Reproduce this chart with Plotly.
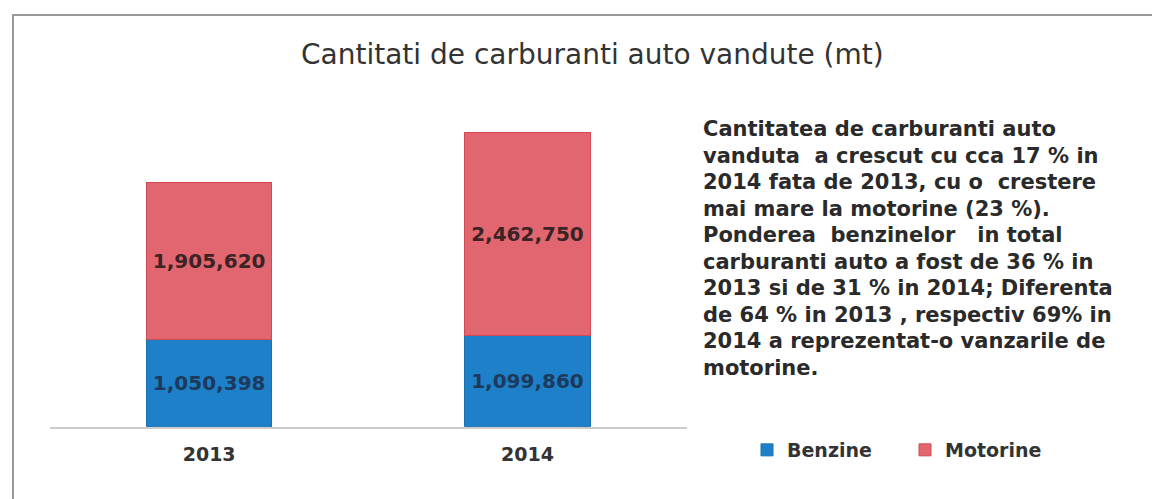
import plotly.graph_objects as go

years = ["2013", "2014"]
benzine = [1050398, 1099860]
motorine = [1905620, 2462750]
title_text = "Cantitati de carburanti auto vandute (mt)"
note_lines = [
    "Cantitatea de carburanti auto",
    "vanduta  a crescut cu cca 17 % in",
    "2014 fata de 2013, cu o  crestere",
    "mai mare la motorine (23 %).",
    "Ponderea  benzinelor   in total",
    "carburanti auto a fost de 36 % in",
    "2013 si de 31 % in 2014; Diferenta",
    "de 64 % in 2013 , respectiv 69% in",
    "2014 a reprezentat-o vanzarile de",
    "motorine.",
]

# page body has a default 8px margin: work in window pixels, offset by it
OFF = 8
WPX, HPX = 1160 - OFF, 499 - OFF
FONT = "DejaVu Sans"


def px(x):
    return (x - OFF) / WPX


def py(y):
    return (HPX - (y - OFF)) / HPX


fig = go.Figure()
fig.add_trace(go.Bar(
    x=years, y=benzine, name="Benzine",
    marker=dict(color="#1e80c9", line=dict(color="#1a6fb0", width=1)),
    text=[f"{v:,}" for v in benzine], textposition="inside", insidetextanchor="middle",
    textfont=dict(family=FONT, size=20, color="#1d3a5c", weight="bold"),
    width=0.393,
))
fig.add_trace(go.Bar(
    x=years, y=motorine, name="Motorine",
    marker=dict(color="#e2666f", line=dict(color="#d04a55", width=1)),
    text=[f"{v:,}" for v in motorine], textposition="inside", insidetextanchor="middle",
    textfont=dict(family=FONT, size=20, color="#3b2326", weight="bold"),
    width=0.393,
))

fig.update_layout(
    width=WPX, height=HPX,
    margin=dict(l=0, r=0, t=0, b=0),
    barmode="stack",
    paper_bgcolor="white", plot_bgcolor="white",
    font=dict(family=FONT, color="#333333"),
    showlegend=True,
    legend=dict(orientation="h", x=px(747), y=py(450), xanchor="left", yanchor="middle",
                font=dict(family=FONT, size=19, color="#333333", weight="bold"),
                entrywidth=113, entrywidthmode="pixels", traceorder="normal",
                bgcolor="rgba(0,0,0,0)"),
    uniformtext=dict(mode=False),
)
fig.update_xaxes(domain=[px(50), px(686.6)], showline=True, linecolor="#cccccc", linewidth=1.5,
                 ticks="", ticklabelstandoff=10,
                 tickfont=dict(family=FONT, size=19, color="#333333", weight="bold"),
                 range=[-0.5, 1.5], automargin=False)
fig.update_yaxes(domain=[py(426.7), py(96.4)], visible=False, range=[0, 4000000],
                 showgrid=False, automargin=False)

fig.add_annotation(xref="paper", yref="paper", x=px(592), y=py(54),
                   text=title_text, showarrow=False, xanchor="center", yanchor="middle",
                   font=dict(family=FONT, size=28, color="#333333"))
for i, line in enumerate(note_lines):
    fig.add_annotation(xref="paper", yref="paper", x=px(701), y=py(129 + 26.5 * i),
                       text=line, showarrow=False, xanchor="left", yanchor="middle",
                       align="left",
                       font=dict(family=FONT, size=21, color="#2a2a2a", weight="bold"))

# frame
fig.add_shape(type="line", xref="paper", yref="paper", x0=px(12), x1=1, y0=py(15), y1=py(15),
              line=dict(color="#999999", width=2))
fig.add_shape(type="line", xref="paper", yref="paper", x0=px(13), x1=px(13), y0=py(15), y1=0,
              line=dict(color="#999999", width=2))

fig.write_html("out.html")
